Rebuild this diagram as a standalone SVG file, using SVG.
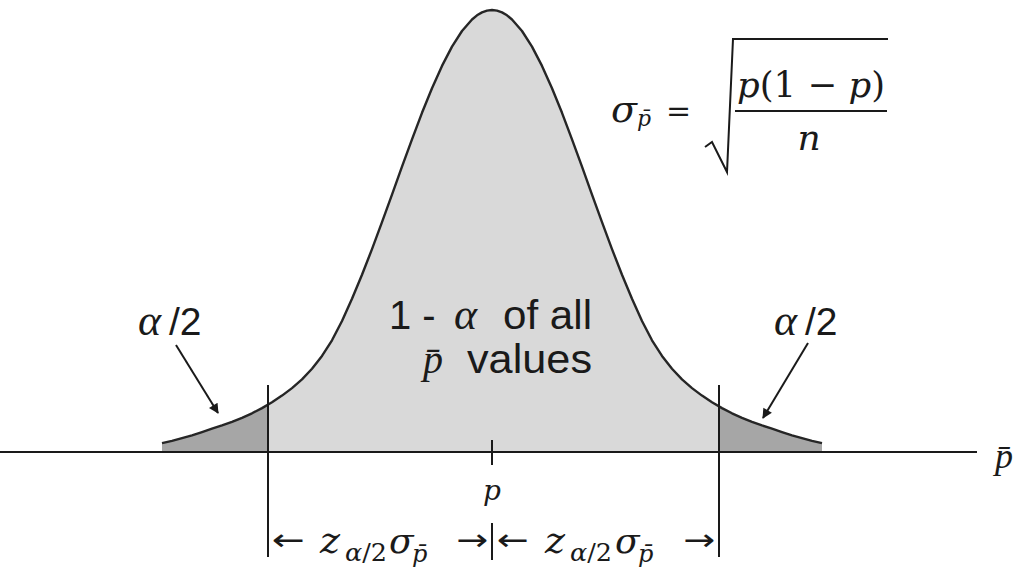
<svg xmlns="http://www.w3.org/2000/svg" width="1013" height="567" viewBox="0 0 1013 567">
<style>
.ln{stroke:#1a1a1a;stroke-width:2;fill:none}
.curve{stroke:#262626;stroke-width:2.4;fill:none;stroke-linejoin:round}
.sans{font-family:"Liberation Sans",Arial,sans-serif;fill:#1a1a1a}
.ser{font-family:"Liberation Serif","Times New Roman",serif;font-style:italic;fill:#1a1a1a}
.m{font-family:"DejaVu Serif","Liberation Serif",serif;fill:#1a1a1a}
.mi{font-style:italic}
.arr{font-family:"DejaVu Sans","Liberation Sans",sans-serif;fill:#1a1a1a;font-size:30px}
</style>
<defs>
<marker id="ah" viewBox="0 0 10 10" refX="9" refY="5" markerWidth="6" markerHeight="5" orient="auto" markerUnits="strokeWidth">
<path d="M0,0 L10,5 L0,10 z" fill="#1a1a1a"/>
</marker>
</defs>
<rect width="1013" height="567" fill="#fff"/>
<g id="distribution">
<path fill="#d9d9d9" d="M162,452 L162,443.2 172,440.9 182,438.2 192,435.3 202,432.1 212,428.7 222,425.4 232,421.8 242,417.8 252,413.3 262,408.1 272,402.3 282,395.6 292,388.1 302,379.4 312,368.8 322,355.9 332,340.3 342,321.0 352,298.8 362,274.8 372,249.1 382,222.2 392,194.6 402,166.7 412,139.3 422,112.8 432,88.2 442,65.9 452,46.6 462,31.0 472,19.5 477,15.3 482,12.4 487,10.6 492,10 497,10.6 502,12.4 507,15.3 512,19.5 522,31.0 532,46.6 542,65.9 552,88.2 562,112.8 572,139.3 582,166.7 592,194.6 602,222.2 612,249.1 622,274.8 632,298.8 642,321.0 652,340.3 662,355.9 672,368.8 682,379.4 692,388.1 702,395.6 712,402.3 722,408.1 732,413.3 742,417.8 752,421.8 762,425.4 772,428.7 782,432.1 792,435.3 802,438.2 812,440.9 822,443.2 L822,452 Z"/>
<path fill="#a6a6a6" d="M162,452 L162,443.2 172,440.9 182,438.2 192,435.3 202,432.1 212,428.7 222,425.4 232,421.8 242,417.8 252,413.3 262,408.1 268,404.6 L268,452 Z"/>
<path fill="#a6a6a6" d="M719,452 L719,406.4 722,408.1 732,413.3 742,417.8 752,421.8 762,425.4 772,428.7 782,432.1 792,435.3 802,438.2 812,440.9 822,443.2 L822,452 Z"/>
<path class="curve" d="M162,443.2 L172,440.9 182,438.2 192,435.3 202,432.1 212,428.7 222,425.4 232,421.8 242,417.8 252,413.3 262,408.1 272,402.3 282,395.6 292,388.1 302,379.4 312,368.8 322,355.9 332,340.3 342,321.0 352,298.8 362,274.8 372,249.1 382,222.2 392,194.6 402,166.7 412,139.3 422,112.8 432,88.2 442,65.9 452,46.6 462,31.0 472,19.5 477,15.3 482,12.4 487,10.6 492,10 497,10.6 502,12.4 507,15.3 512,19.5 522,31.0 532,46.6 542,65.9 552,88.2 562,112.8 572,139.3 582,166.7 592,194.6 602,222.2 612,249.1 622,274.8 632,298.8 642,321.0 652,340.3 662,355.9 672,368.8 682,379.4 692,388.1 702,395.6 712,402.3 722,408.1 732,413.3 742,417.8 752,421.8 762,425.4 772,428.7 782,432.1 792,435.3 802,438.2 812,440.9 822,443.2"/>
</g>
<g id="axis">
<line class="ln" x1="0" y1="452" x2="977" y2="452"/>
<line class="ln" x1="492" y1="440" x2="492" y2="465"/>
<line class="ln" x1="268" y1="385" x2="268" y2="557"/>
<line class="ln" x1="719" y1="385" x2="719" y2="557"/>
<line class="ln" x1="492" y1="523" x2="492" y2="560"/>
<text class="ser" x="995" y="468" font-size="36">p̄</text>
<text class="m mi" x="492" y="500" font-size="28" text-anchor="middle">p</text>
</g>
<g id="connectors">
<line class="ln" x1="176" y1="345" x2="218" y2="413" marker-end="url(#ah)"/>
<line class="ln" x1="808" y1="343" x2="763" y2="418" marker-end="url(#ah)"/>
</g>
<g id="label-left-tail">
<text class="ser" x="138" y="335" font-size="44">α</text>
<text class="sans" x="169" y="335" font-size="39">/2</text>
</g>
<g id="label-right-tail">
<text class="ser" x="774" y="335" font-size="44">α</text>
<text class="sans" x="805" y="335" font-size="39">/2</text>
</g>
<g id="label-center">
<text class="sans" x="389" y="329" font-size="40">1 -</text>
<text class="ser" x="454" y="329" font-size="44">α</text>
<text class="sans" x="503" y="329" font-size="40" textLength="89" lengthAdjust="spacingAndGlyphs">of all</text>
<text class="ser" x="423" y="373" font-size="40">p̄</text>
<text class="sans" x="467" y="373" font-size="40" textLength="125" lengthAdjust="spacingAndGlyphs">values</text>
</g>
<g id="formula">
<text class="m mi" x="611" y="122" font-size="38">σ</text>
<text class="m mi" x="637" y="126" font-size="22">p̄</text>
<text class="m" x="666" y="121" font-size="30">=</text>
<polyline class="ln" stroke-width="2.5" points="705,147 712,142 727,172 733,39 888,39"/>
<text class="m" x="737" y="97" font-size="36" textLength="148" lengthAdjust="spacingAndGlyphs"><tspan class="mi">p</tspan>(1 − <tspan class="mi">p</tspan>)</text>
<line class="ln" stroke-width="2.5" x1="735" y1="111" x2="887" y2="111"/>
<text class="m mi" x="809" y="150" font-size="36" text-anchor="middle">n</text>
</g>
<g id="dimension-left">
<text class="arr" x="272" y="550" textLength="33" lengthAdjust="spacingAndGlyphs">←</text>
<text class="m mi" x="320" y="553" font-size="38">z</text>
<text class="m" x="345" y="561" font-size="25" textLength="42" lengthAdjust="spacingAndGlyphs"><tspan class="mi">α</tspan>/2</text>
<text class="m mi" x="389" y="553" font-size="36">σ</text>
<text class="m mi" x="412" y="562" font-size="24">p̄</text>
<text class="arr" x="456" y="550" textLength="32" lengthAdjust="spacingAndGlyphs">→</text>
</g>
<g id="dimension-right">
<text class="arr" x="497" y="550" textLength="32" lengthAdjust="spacingAndGlyphs">←</text>
<text class="m mi" x="545" y="553" font-size="38">z</text>
<text class="m" x="570" y="561" font-size="25" textLength="42" lengthAdjust="spacingAndGlyphs"><tspan class="mi">α</tspan>/2</text>
<text class="m mi" x="615" y="553" font-size="36">σ</text>
<text class="m mi" x="638" y="562" font-size="24">p̄</text>
<text class="arr" x="683" y="550" textLength="32" lengthAdjust="spacingAndGlyphs">→</text>
</g>
</svg>
